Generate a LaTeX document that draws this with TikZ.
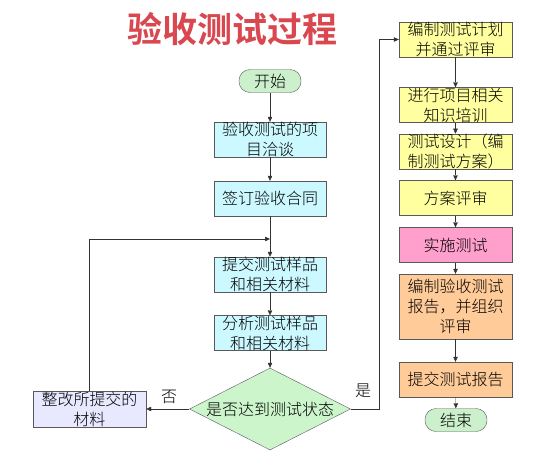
\documentclass[tikz,border=0pt]{standalone}
\usepackage{fontspec}
\usetikzlibrary{shapes.geometric,arrows.meta}
\newfontfamily\cjk{Noto Sans CJK SC Light}
\newfontfamily\cjkheavy{Noto Sans CJK SC Bold}
\definecolor{titleRed}{RGB}{217,72,80}
\definecolor{startGreen}{RGB}{204,240,204}
\definecolor{stepCyan}{RGB}{204,248,255}
\definecolor{fixLavender}{RGB}{232,232,255}
\definecolor{decisionGreen}{RGB}{204,245,204}
\definecolor{planYellow}{RGB}{255,255,160}
\definecolor{runPink}{RGB}{255,160,204}
\definecolor{reportOrange}{RGB}{255,204,153}
\colorlet{edgeGray}{black!65}
\begin{document}
\begin{tikzpicture}[
  x=1pt, y=-1pt,
  every node/.style={
    font=\cjk\fontsize{16}{20}\selectfont,
    align=center,
    inner sep=0pt
  },
  terminal/.style={
    draw=edgeGray,
    fill=startGreen,
    rounded corners=11pt,
    minimum width=62pt,
    minimum height=23pt
  },
  stepbox/.style={
    draw=edgeGray,
    fill=stepCyan,
    minimum width=112pt,
    minimum height=35pt
  },
  planbox/.style={
    stepbox,
    fill=planYellow,
    minimum width=113pt
  },
  decision/.style={
    diamond,
    draw=edgeGray,
    fill=decisionGreen,
    minimum width=161pt,
    minimum height=82pt
  },
  link/.style={
    draw=black!80,
    -{Triangle[length=5pt,width=4.5pt]}
  }
]
\useasboundingbox (0,0) rectangle (554,450);
\node[font=\cjkheavy\fontsize{35}{40}\selectfont, text=titleRed] (title) at (232,29) {验收测试过程};
\node[terminal] (start) at (270,81) {开始};
\node[stepbox] (talk) at (270,139.5) {验收测试的项\\目洽谈};
\node[stepbox] (contract) at (270,198.5) {签订验收合同};
\node[stepbox] (submit) at (270,274.5) {提交测试样品\\和相关材料};
\node[stepbox] (analyse) at (270,333) {分析测试样品\\和相关材料};
\node[decision] (ready) at (270,409) {};
\node (readytext) at (ready) {是否达到测试状态};
\node[stepbox, fill=fixLavender, minimum width=113pt, minimum height=36pt] (fix) at (89.5,409) {整改所提交的\\材料};
\node (no) at (169,397) {否};
\node (yes) at (363,391) {是};
\coordinate (merge) at (270,239);
\node[planbox] (plan) at (455.5,39.5) {编制测试计划\\并通过评审};
\node[planbox] (train) at (455.5,105) {进行项目相关\\知识培训};
\node[planbox] (design) at (455.5,151.5) {测试设计（编\\制测试方案）};
\node[planbox] (review) at (455.5,198) {方案评审};
\node[planbox, fill=runPink] (run) at (455.5,245) {实施测试};
\node[planbox, fill=reportOrange, minimum height=65pt] (report) at (455.5,306.5) {编制验收测试\\报告，并组织\\评审};
\node[planbox, fill=reportOrange] (hand) at (455.5,379.5) {提交测试报告};
\node[terminal] (end) at (456,420) {结束};
\draw[link] (start) -- (talk);
\draw[link] (talk) -- (contract);
\draw[link] (contract) -- (submit);
\draw[link] (submit) -- (analyse);
\draw[link] (analyse) -- (ready);
\draw[link] (ready) -- (fix);
\draw[link] (fix.north) |- (merge);
\draw[link] (ready.east) -- ++(28,0) |- (plan.west);
\foreach \a/\b in {plan/train, train/design, design/review, review/run, run/report, report/hand, hand/end}
  \draw[link] (\a) -- (\b);
\end{tikzpicture}
\end{document}
